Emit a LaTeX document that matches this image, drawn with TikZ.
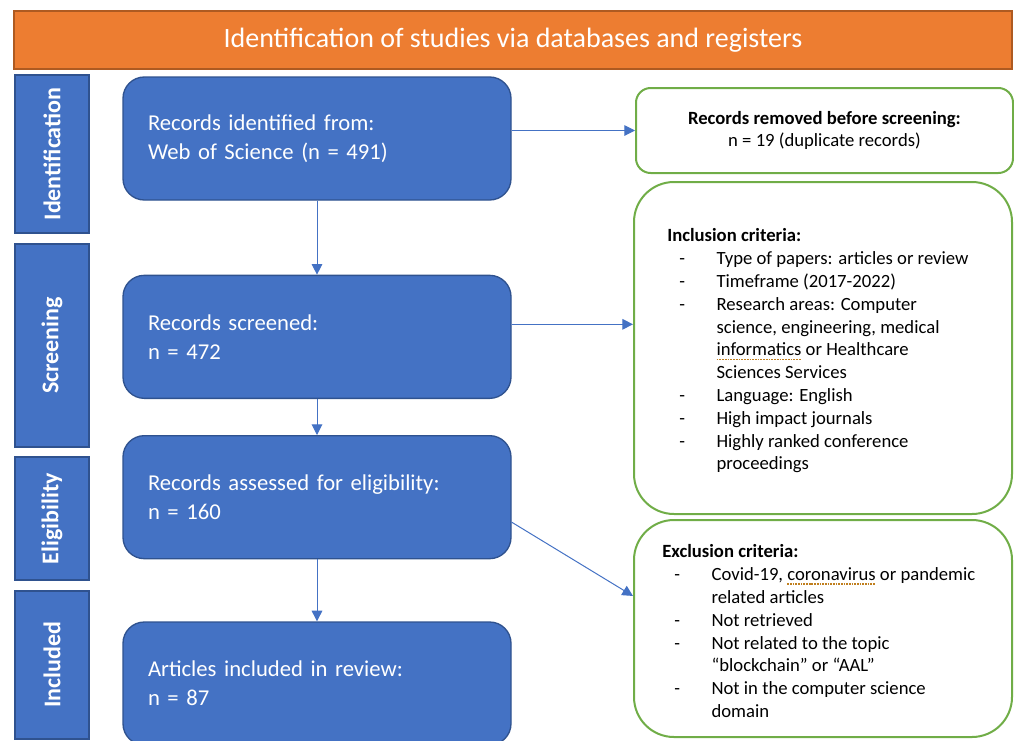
\documentclass[tikz,border=0pt]{standalone}
\usepackage{fontspec}
\setmainfont{Carlito}
\usepackage{tikz}
\usetikzlibrary{positioning,arrows.meta}

\definecolor{boxblue}{HTML}{4472C4}
\definecolor{boxedge}{HTML}{2F528F}
\definecolor{titleorange}{HTML}{ED7D31}
\definecolor{titleedge}{HTML}{AE5A21}
\definecolor{critgreen}{HTML}{70AD47}
\definecolor{spellcol}{HTML}{C07F1E}

\newsavebox{\spellbox}
\newcommand{\crit}[1]{\makebox[37pt][l]{\hspace{9pt}-}#1}
\newcommand{\critcont}[1]{\hspace{37pt}#1}
\newcommand{\spellmark}[1]{\sbox{\spellbox}{#1}%
	\rlap{\raisebox{-3pt}{\textcolor{spellcol}{\hbox to\wd\spellbox{\xleaders\hbox{\rule{1.3pt}{0.9pt}\kern0.7pt}\hfill}}}}%
	\usebox{\spellbox}}

\begin{document}
\begin{tikzpicture}[
	x=0.75pt, y=-0.75pt,
	node distance=27pt,
	ar/.style={-{Triangle[length=8pt,width=8pt]}, draw=boxblue, line width=0.75pt},
	titlebox/.style={
	  fill=titleorange,
	  draw=titleedge,
	  line width=1pt,
	  minimum width=748.5pt,
	  minimum height=43.5pt,
	  text=white,
	  font=\fontsize{21}{25}\selectfont
	  },
	stagebox/.style={
	  fill=boxblue,
	  draw=boxedge,
	  line width=1pt,
	  rotate=90,
	  minimum height=55.5pt,
	  text=white,
	  font=\fontsize{18}{22}\selectfont\bfseries
	  },
	mainbox/.style={
	  fill=boxblue,
	  draw=boxedge,
	  line width=1pt,
	  rounded corners=16pt,
	  text=white,
	  text width=253.5pt,
	  inner xsep=18.75pt,
	  minimum height=92.25pt,
	  align=left,
	  font=\fontsize{17}{21.75}\selectfont
	  },
	critbox/.style={
	  draw=critgreen,
	  line width=1.5pt,
	  minimum width=283.5pt
	  },
	crittext/.style={
	  align=left,
	  inner sep=0pt,
	  font=\fontsize{14}{17.1}\selectfont
	  }
	]
		\useasboundingbox (0,0) rectangle (1014,740);

		\node[titlebox] (title) at (513,40) {Identification of studies via databases and registers};

		\node[stagebox, minimum width=118.5pt] (idstage) at (52,154) {Identification};
		\node[stagebox, minimum width=152.25pt] (scrstage) at (52,345.5) {Screening};
		\node[stagebox, minimum width=92.25pt] (eligstage) at (52,518.5) {Eligibility};
		\node[stagebox, minimum width=111pt] (inclstage) at (52,665) {Included};

		\node[mainbox] (ident) at (317,138.5) {Records identified from:\\Web of Science (n = 491)};
		\node[mainbox, below=55.5pt of ident] (screened) {Records screened:\\n = 472};
		\node[mainbox, below=27pt of screened] (assessed) {Records assessed for eligibility:\\n = 160};
		\node[mainbox, below=46.5pt of assessed] (included) {Articles included in review:\\n = 87};

		\node[critbox, rounded corners=11pt, minimum width=282.75pt, minimum height=63.75pt,
			align=center, font=\fontsize{14}{16.5}\selectfont] (removed) at (824.5,130.5)
			{\textbf{Records removed before screening:}\\n = 19 (duplicate records)};
		\node[critbox, rounded corners=30pt, minimum height=249pt] (inclcrit) at (823,348) {};
		\node[critbox, rounded corners=30pt, minimum height=162.75pt] (exclcrit) at (823,628.5) {};

		\node[crittext, anchor=west] (incltext) at ([xshift=25.5pt,yshift=-2.25pt]inclcrit.west) {%
			\textbf{Inclusion criteria:}\\
			\crit{Type of papers: articles or review}\\
			\crit{Timeframe (2017-2022)}\\
			\crit{Research areas: Computer}\\
			\critcont{science, engineering, medical}\\
			\critcont{\spellmark{informatics} or Healthcare}\\
			\critcont{Sciences Services}\\
			\crit{Language: English}\\
			\crit{High impact journals}\\
			\crit{Highly ranked conference}\\
			\critcont{proceedings}};
		\node[crittext, anchor=west] (excltext) at ([xshift=21.75pt,yshift=-2pt]exclcrit.west) {%
			\textbf{Exclusion criteria:}\\
			\crit{Covid-19, \spellmark{coronavirus} or pandemic}\\
			\critcont{related articles}\\
			\crit{Not retrieved}\\
			\crit{Not related to the topic}\\
			\critcont{“blockchain” or “AAL”}\\
			\crit{Not in the computer science}\\
			\critcont{domain}};

		\draw[ar]
			(ident.south) -- (screened.north);
		\draw[ar]
			(screened.south) -- (assessed.north);
		\draw[ar]
			(assessed.south) -- (included.north);
		\draw[ar]
			(ident.east |- removed.west) -- (removed.west);
		\draw[ar]
			([yshift=9.4pt]screened.east) -- ([yshift=9.4pt]screened.east -| inclcrit.west);
		\draw[ar]
			([yshift=-18.75pt]assessed.east) -- ([yshift=24.4pt]exclcrit.west);
	\end{tikzpicture}
\end{document}
